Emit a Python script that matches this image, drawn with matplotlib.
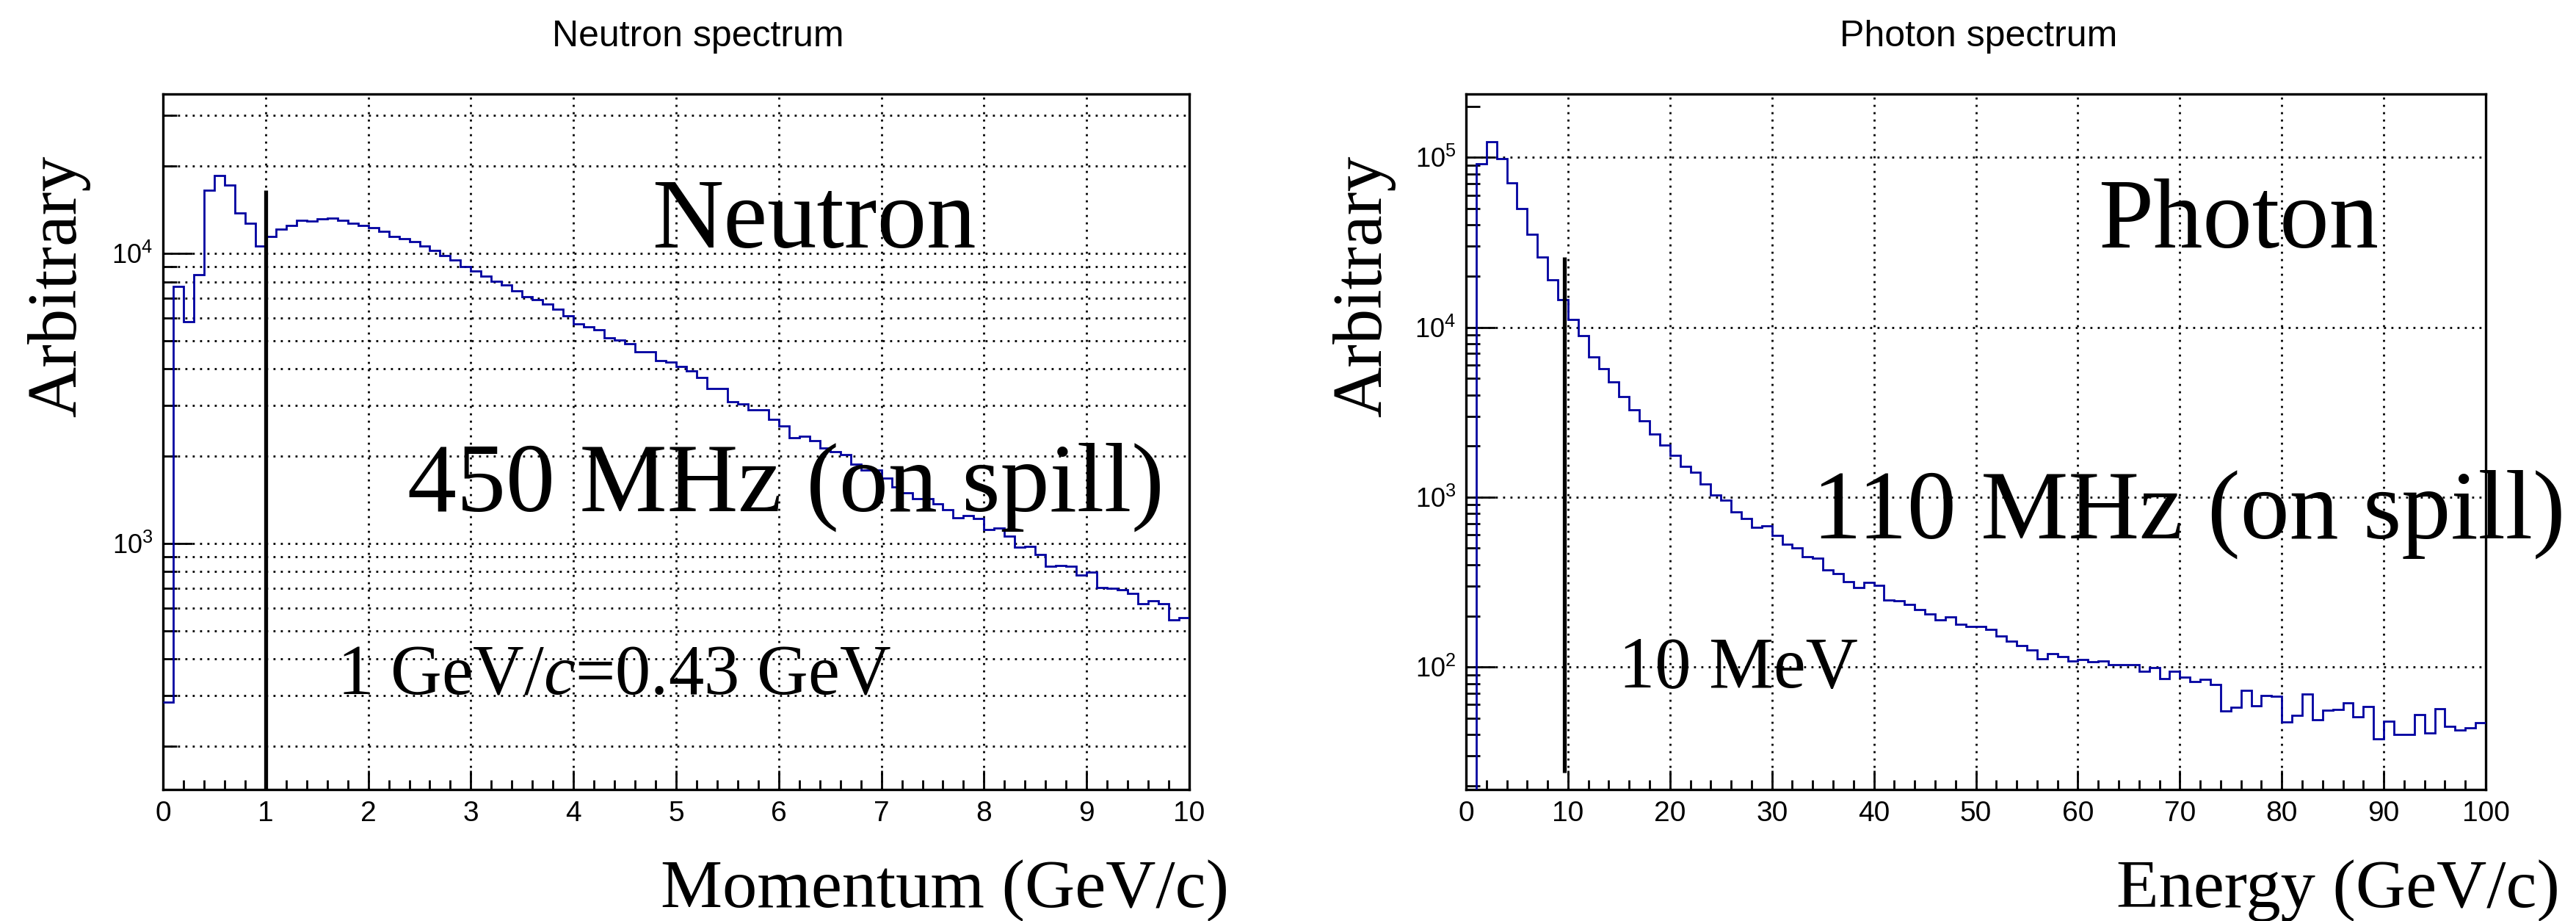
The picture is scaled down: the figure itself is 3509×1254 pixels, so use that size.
import numpy as np
import matplotlib
matplotlib.use("Agg")
import matplotlib.pyplot as plt
from matplotlib import font_manager
from matplotlib.ticker import LogLocator, MultipleLocator, FuncFormatter, NullFormatter

# ---------------- data ----------------
neutron_edges = np.linspace(0.0, 10.0, 101)   # GeV/c, 0.1 bins
neutron_counts = [
    285, 7700, 5820, 8450, 16500, 18600, 17200, 13800, 12700, 10600,
    11480, 12160, 12500, 13020, 12920, 13200, 13250, 12990, 12700, 12500,
    12260, 11910, 11480, 11230, 11020, 10600, 10250, 9870, 9530, 9040,
    8730, 8370, 8050, 7810, 7450, 7120, 6930, 6690, 6450, 6120,
    5720, 5580, 5470, 5110, 5040, 4900, 4580, 4580, 4280, 4230,
    4070, 3930, 3740, 3420, 3420, 3080, 3030, 2890, 2890, 2680,
    2540, 2320, 2350, 2260, 2140, 2070, 2030, 1880, 1790, 1790,
    1680, 1570, 1500, 1430, 1430, 1370, 1310, 1230, 1250, 1220,
    1120, 1130, 1060, 970, 980, 916, 834, 840, 834, 780,
    796, 706, 700, 695, 672, 620, 635, 621, 545, 555,
]

photon_edges = np.linspace(0.0, 100.0, 101)   # 1-unit bins
photon_counts = [
    1, 92000, 124000, 98700, 70800, 49700, 35400, 25900, 19100, 14500,
    11100, 8910, 6660, 5690, 4770, 3890, 3260, 2810, 2340, 2020,
    1760, 1510, 1400, 1200, 1030, 963, 819, 751, 662, 676,
    596, 526, 504, 446, 438, 374, 353, 318, 294, 315,
    301, 249, 245, 233, 218, 205, 189, 198, 178, 174,
    174, 167, 152, 142, 134, 126, 112, 120, 115, 109,
    111, 107, 108, 103, 103, 103, 94.4, 98.8, 85.8, 94.2,
    87.5, 81.7, 84.9, 78.7, 55.2, 58, 72.9, 59.1, 68.1, 67,
    47.6, 51.8, 69.6, 48.9, 55.4, 56.2, 61.8, 50.7, 58.5, 37.8,
    47.9, 40.1, 40.1, 52.7, 40.8, 56.9, 44.9, 42.7, 43.8, 47,
]

neutron_xlim = (0, 10)
neutron_ylim = (142, 35500)
photon_xlim = (0, 100)
photon_ylim = (19, 236000)

neutron_cut_x = 1.0
neutron_cut_top = 16500
photon_cut_x = 9.65
photon_cut_bottom = 24
photon_cut_top = 26000

# ---------------- style ----------------
plt.rcParams['mathtext.fontset'] = 'custom'
plt.rcParams['mathtext.rm'] = 'Liberation Sans'
plt.rcParams['mathtext.it'] = 'Liberation Serif:italic'
plt.rcParams['mathtext.bf'] = 'Liberation Sans:bold'

installed = {f.name for f in font_manager.fontManager.ttflist}
narrow = [f for f in ['Liberation Sans Narrow', 'DejaVu Sans Condensed'] if f in installed]
sans_tick = narrow + ['Liberation Sans']

W, H = 3509, 1254
fig = plt.figure(figsize=(W / 100, H / 100), dpi=100)

def fx(px):
    return px / W

def fy(py):
    return 1 - py / H

hist_color = '#0000a0'
grid_kw = dict(color='black', linestyle=(0, (1.0, 2.6)), linewidth=2.0)
serif = 'Liberation Serif'


def decade_fmt(v, pos):
    e = int(round(np.log10(v)))
    if abs(v - 10 ** e) > 1e-6 * v:
        return ''
    return r'$\mathdefault{10^{%d}}$' % e


def style_axes(ax, xmajor, xminor, minor_grid_y):
    ax.set_yscale('log')
    ax.xaxis.set_major_locator(MultipleLocator(xmajor))
    ax.xaxis.set_minor_locator(MultipleLocator(xminor))
    ax.yaxis.set_major_locator(LogLocator(base=10, numticks=20))
    ax.yaxis.set_minor_locator(LogLocator(base=10, subs=np.arange(2, 10), numticks=20))
    ax.yaxis.set_major_formatter(FuncFormatter(decade_fmt))
    ax.yaxis.set_minor_formatter(NullFormatter())
    ax.tick_params(axis='both', which='both', direction='in', top=False, right=False, width=2.0)
    ax.tick_params(axis='x', which='major', length=19, pad=11, labelsize=28)
    ax.tick_params(axis='x', which='minor', length=9.5)
    ax.tick_params(axis='y', which='major', length=29, pad=10, labelsize=26)
    ax.tick_params(axis='y', which='minor', length=14)
    for sp in ax.spines.values():
        sp.set_linewidth(2.4)
    ax.grid(True, which='major', axis='x', **grid_kw)
    ax.grid(True, which='major', axis='y', **grid_kw)
    if minor_grid_y:
        ax.grid(True, which='minor', axis='y', **grid_kw)
    ax.set_axisbelow(True)


# ---------------- left: neutron ----------------
axL = fig.add_axes([fx(222), fy(1075), fx(1620 - 222), (1075 - 128) / H])
axL.stairs(neutron_counts, neutron_edges, baseline=None, color=hist_color, linewidth=2.0, zorder=3)
axL.set_xlim(*neutron_xlim)
axL.set_ylim(*neutron_ylim)
style_axes(axL, 1, 0.2, True)
axL.plot([neutron_cut_x, neutron_cut_x], [neutron_ylim[0], neutron_cut_top],
         color='black', linewidth=3.8, zorder=4, solid_capstyle='butt')

# ---------------- right: photon ----------------
axR = fig.add_axes([fx(1997), fy(1075), fx(3386 - 1997), (1075 - 128) / H])
axR.stairs(photon_counts, photon_edges, baseline=None, color=hist_color, linewidth=2.0, zorder=3)
axR.set_xlim(*photon_xlim)
axR.set_ylim(*photon_ylim)
style_axes(axR, 10, 2, False)
axR.plot([photon_cut_x, photon_cut_x], [photon_cut_bottom, photon_cut_top],
         color='black', linewidth=3.8, zorder=4, solid_capstyle='butt')

for lab in axL.get_xticklabels() + axR.get_xticklabels():
    lab.set_family(sans_tick)
for lab in axL.get_yticklabels() + axR.get_yticklabels():
    lab.set_family('Liberation Sans')

# ---------------- titles ----------------
fig.text(fx(752), fy(63), 'Neutron spectrum', family='Liberation Sans', fontsize=36,
         ha='left', va='baseline')
fig.text(fx(2506), fy(63), 'Photon spectrum', family='Liberation Sans', fontsize=36,
         ha='left', va='baseline')

# axis titles
fig.text(fx(80), fy(212), 'Arbitrary', family=serif, fontsize=69, rotation=90,
         ha='center', va='top')
fig.text(fx(1858), fy(212), 'Arbitrary', family=serif, fontsize=69, rotation=90,
         ha='center', va='top')
fig.text(fx(1674), fy(1235), 'Momentum (GeV/c)', family=serif, fontsize=68,
         ha='right', va='baseline')
fig.text(fx(3487), fy(1235), 'Energy (GeV/c)', family=serif, fontsize=68,
         ha='right', va='baseline')

# annotations
fig.text(fx(888), fy(337), 'Neutron', family=serif, fontsize=97, ha='left', va='baseline')
fig.text(fx(555), fy(696), '450 MHz (on spill)', family=serif, fontsize=96.5, ha='left', va='baseline')
fig.text(fx(459), fy(945), r'1 GeV/$c$=0.43 GeV', family=serif, fontsize=69.5, ha='left', va='baseline')

fig.text(fx(2858), fy(337), 'Photon', family=serif, fontsize=97, ha='left', va='baseline')
fig.text(fx(2469), fy(733), '110 MHz (on spill)', family=serif, fontsize=96.5, ha='left', va='baseline')
fig.text(fx(2205), fy(936), '10 MeV', family=serif, fontsize=71, ha='left', va='baseline')

fig.savefig('out.png', dpi=100)
